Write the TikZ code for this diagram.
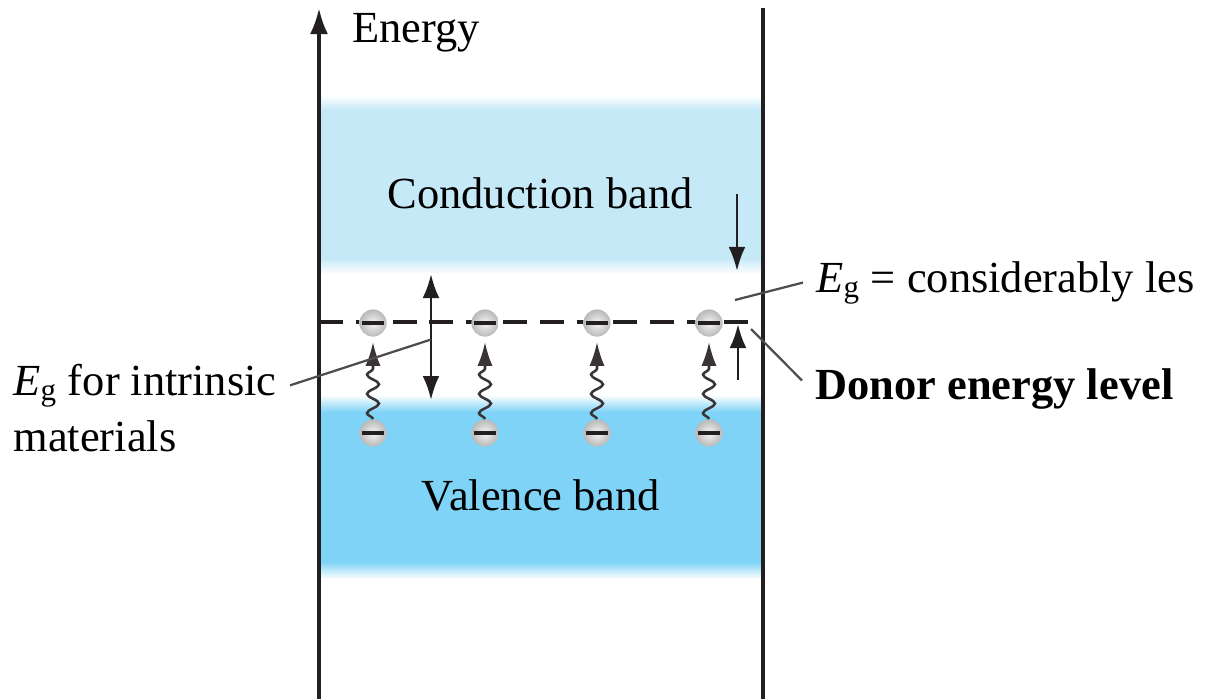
\documentclass[tikz,border=0pt]{standalone}
\usepackage{fontspec}
\setmainfont{Liberation Serif}
\usetikzlibrary{arrows.meta, decorations.pathmorphing, calc}
\definecolor{cband}{HTML}{C6E9F8}
\definecolor{vband}{HTML}{7FD3F6}
\definecolor{ink}{HTML}{231F20}
\newcommand{\Eg}{\textit{E}\textsubscript{g}}

\begin{document}
\begin{tikzpicture}[x=0.025cm, y=-0.025cm,
    font=\fontsize{31.6}{39.8}\selectfont,
    wall/.style={ink, line width=2.7pt},
    arr/.style={ink, line width=2pt, -{Latex[length=0.6cm, width=0.42cm]}},
    dblarr/.style={ink, line width=2pt, {Latex[length=0.6cm, width=0.42cm]}-{Latex[length=0.6cm, width=0.42cm]}},
    leader/.style={ink!80, line width=1.6pt},
    lbl/.style={inner xsep=0.33cm},
    elec/.style={circle, inner sep=0pt, minimum size=0.68cm,
      inner color=gray!8, outer color=gray!55,
      path picture={\fill[ink]
        ([xshift=-0.28cm, yshift=-0.05cm]path picture bounding box.center) rectangle
        ([xshift=0.28cm, yshift=0.05cm]path picture bounding box.center);}},
    wave/.style={ink!90, line width=1.8pt, decorate,
      decoration={snake, amplitude=0.15cm, segment length=0.48cm, post length=0.6cm},
      -{Latex[length=0.6cm, width=0.38cm]}}]
  \useasboundingbox (0,0) rectangle (1213,699);

  % bands
  \shade[top color=white, bottom color=cband] (319,95) rectangle (763,110);
  \fill[cband] (319,110) rectangle (763,258);
  \shade[top color=cband, bottom color=white] (319,258) rectangle (763,274);
  \shade[top color=white, bottom color=vband] (319,395) rectangle (763,412);
  \fill[vband] (319,412) rectangle (763,562);
  \shade[top color=vband, bottom color=white] (319,562) rectangle (763,579);

  \coordinate (axisB) at (319,699);
  \coordinate (axisT) at (319,8);
  \coordinate (wallT) at (763,8);
  \coordinate (wallB) at (763,699);
  \draw[wall, -{Latex[length=0.65cm, width=0.45cm]}] (axisB) -- (axisT);
  \draw[wall] (wallT) -- (wallB);

  \node[lbl, anchor=base west] (energy) at (339,42) {Energy};
  \node[anchor=base] (cond) at (540,208) {Conduction band};
  \node[anchor=base] (val) at (541,510) {Valence band};

  % donor level
  \coordinate (donL) at (319,322);
  \coordinate (donR) at (763,322);
  \draw[ink, line width=2.4pt, dash pattern=on 0.6cm off 0.32cm] (donL) -- (donR);

  \foreach \x [count=\i] in {373,485,597,709} {
    \node[elec] (u\i) at (\x,323) {};
    \node[elec] (l\i) at (\x,433) {};
    \draw[wave] (l\i.north) -- ($(u\i.south)+(0,5)$);
  }

  % gaps
  \coordinate (gapT) at (431,274);
  \coordinate (gapB) at (431,400);
  \draw[dblarr] (gapT) -- (gapB);
  \coordinate (cbTop) at (737,194);
  \coordinate (cbTip) at (737,271);
  \draw[arr] (cbTop) -- (cbTip);
  \coordinate (dnBot) at (738,380);
  \coordinate (dnTip) at (738,324);
  \draw[arr] (dnBot) -- (dnTip);

  \node[lbl, anchor=base west] (intr) at (0,395) {\Eg{} for intrinsic};
  \node[lbl, anchor=base west] (mat) at (0,451) {materials};
  \node[lbl, anchor=base west] (egless) at (803,292) {\Eg{} = considerably les};
  \node[lbl, anchor=base west] (donor) at (802,399) {\bfseries Donor energy level};

  \coordinate (gapPt) at ($(gapT)!0.52!(gapB)$);
  \coordinate (lessPt) at (735,300);
  \coordinate (donPt) at (751,329);
  \draw[leader] (intr.east) -- (gapPt);
  \draw[leader] (egless.west) -- (lessPt);
  \draw[leader] ([yshift=0.2cm]donor.west) -- (donPt);
\end{tikzpicture}
\end{document}
